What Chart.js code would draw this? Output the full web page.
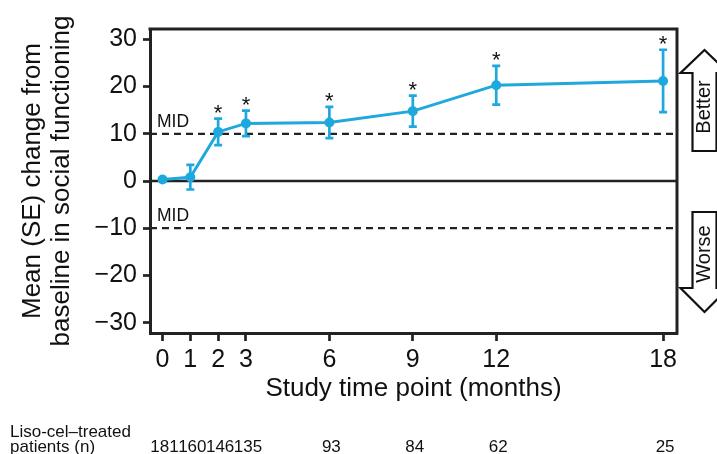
<!DOCTYPE html>
<html>
<head>
<meta charset="utf-8">
<script src="https://cdn.jsdelivr.net/npm/chart.js@4.4.1/dist/chart.umd.min.js"></script>
<style>
  html, body { margin: 0; padding: 0; background: #fff; }
  #wrap { width: 717px; height: 454px; position: relative; }
</style>
</head>
<body>
<div id="wrap"><canvas id="sfChart"></canvas></div>
<script>
// study time points (months) and mean (SE) change from baseline in social functioning
const months = [0, 1, 2, 3, 6, 9, 12, 18];
const meanChange = [0.3, 0.8, 10.4, 12.2, 12.4, 14.8, 20.3, 21.2];
const seChange = [0, 2.6, 2.8, 2.7, 3.3, 3.3, 4.1, 6.6];
const significant = [false, false, true, true, true, true, true, true];
const patientsN = [181, 160, 146, 135, 93, 84, 62, 25];
const xTicks = [0, 1, 2, 3, 6, 9, 12, 18];
const yTicks = [-30, -20, -10, 0, 10, 20, 30];
const midLevels = [10, -10];

const family = '"Liberation Sans", Arial, Helvetica, sans-serif';
const lineColor = '#1fa8de';
const ink = '#222';

function drawArrow(ctx, cx, tipY, headY, endY) {
  ctx.beginPath();
  ctx.moveTo(cx, tipY);
  ctx.lineTo(cx + 24, headY);
  ctx.lineTo(cx + 12, headY);
  ctx.lineTo(cx + 12, endY);
  ctx.lineTo(cx - 12, endY);
  ctx.lineTo(cx - 12, headY);
  ctx.lineTo(cx - 24, headY);
  ctx.closePath();
  ctx.fillStyle = '#fff';
  ctx.fill();
  ctx.strokeStyle = '#111';
  ctx.lineWidth = 2.2;
  ctx.stroke();
}

function rotatedText(ctx, text, x, y) {
  ctx.save();
  ctx.translate(x, y);
  ctx.rotate(-Math.PI / 2);
  ctx.fillText(text, 0, 0);
  ctx.restore();
}

const decorations = {
  id: 'decorations',
  beforeDatasetsDraw(chart) {
    const {ctx, chartArea: a, scales: {y}} = chart;
    ctx.save();
    // zero line
    ctx.strokeStyle = ink;
    ctx.lineWidth = 2.5;
    ctx.beginPath();
    ctx.moveTo(a.left, y.getPixelForValue(0));
    ctx.lineTo(a.right, y.getPixelForValue(0));
    ctx.stroke();
    // MID dashed lines
    ctx.setLineDash([7, 5]);
    ctx.lineWidth = 2.3;
    midLevels.forEach(v => {
      const py = y.getPixelForValue(v);
      ctx.beginPath();
      ctx.moveTo(a.left, py);
      ctx.lineTo(a.right, py);
      ctx.stroke();
    });
    ctx.setLineDash([]);
    ctx.fillStyle = '#111';
    ctx.font = '17.5px ' + family;
    ctx.textAlign = 'left';
    ctx.textBaseline = 'alphabetic';
    midLevels.forEach(v => ctx.fillText('MID', a.left + 7, y.getPixelForValue(v) - 7));
    ctx.restore();
  },
  afterDatasetsDraw(chart) {
    const {ctx, scales: {x, y}} = chart;
    ctx.save();
    ctx.strokeStyle = lineColor;
    ctx.lineWidth = 2.7;
    months.forEach((m, i) => {
      const px = x.getPixelForValue(m);
      const top = y.getPixelForValue(meanChange[i] + seChange[i]);
      const bot = y.getPixelForValue(meanChange[i] - seChange[i]);
      if (seChange[i] > 0) {
        ctx.beginPath();
        ctx.moveTo(px, top); ctx.lineTo(px, bot);
        ctx.moveTo(px - 4, top); ctx.lineTo(px + 4, top);
        ctx.moveTo(px - 4, bot); ctx.lineTo(px + 4, bot);
        ctx.stroke();
      }
      if (significant[i]) {
        ctx.fillStyle = '#111';
        ctx.font = '22px ' + family;
        ctx.textAlign = 'center';
        ctx.textBaseline = 'alphabetic';
        ctx.fillText('*', px, top + 1);
      }
    });
    ctx.restore();
  },
  afterDraw(chart) {
    const {ctx, chartArea: a, scales: {x}} = chart;
    ctx.save();
    // top and right frame
    ctx.strokeStyle = ink;
    ctx.lineWidth = 3;
    ctx.beginPath();
    ctx.moveTo(a.left - 1.5, a.top);
    ctx.lineTo(a.right, a.top);
    ctx.lineTo(a.right, a.bottom + 1.5);
    ctx.stroke();

    // better / worse arrows
    const cx = a.right + 27.5;
    drawArrow(ctx, cx, a.top + 21, a.top + 44, a.top + 122);
    drawArrow(ctx, cx, a.top + 283, a.top + 259, a.top + 183);
    ctx.fillStyle = '#111';
    ctx.font = '20px ' + family;
    ctx.textAlign = 'center';
    ctx.textBaseline = 'middle';
    rotatedText(ctx, 'Better', cx, a.top + 78);
    rotatedText(ctx, 'Worse', cx, a.top + 225);

    // patients row
    ctx.font = '17px ' + family;
    ctx.textAlign = 'left';
    ctx.textBaseline = 'alphabetic';
    ctx.fillText('Liso-cel\u2013treated', 10, 437);
    ctx.fillText('patients (n)', 10, 452);
    ctx.textAlign = 'center';
    months.forEach((m, i) => ctx.fillText(String(patientsN[i]), x.getPixelForValue(m) + 2, 452));
    ctx.restore();
  }
};

new Chart(document.getElementById('sfChart'), {
  type: 'line',
  data: {
    datasets: [{
      label: 'Liso-cel',
      data: months.map((m, i) => ({x: m, y: meanChange[i]})),
      borderColor: lineColor,
      backgroundColor: lineColor,
      pointBackgroundColor: lineColor,
      borderWidth: 3,
      pointRadius: 3.5,
      pointHoverRadius: 3.5,
      tension: 0
    }]
  },
  options: {
    responsive: true,
    maintainAspectRatio: false,
    animation: false,
    layout: {padding: {top: 29, right: 40, left: 0, bottom: 0}},
    plugins: {legend: {display: false}, tooltip: {enabled: false}},
    scales: {
      x: {
        type: 'linear',
        min: -0.45,
        max: 18.5,
        afterBuildTicks: s => { s.ticks = xTicks.map(v => ({value: v})); },
        afterFit: s => { s.height = 121; },
        grid: {drawOnChartArea: false, tickLength: 8, tickWidth: 2.7, tickColor: ink},
        border: {color: ink, width: 3},
        ticks: {color: '#111', font: {size: 25, family}, padding: 4, maxRotation: 0, autoSkip: false},
        title: {
          display: true,
          text: 'Study time point (months)',
          color: '#111',
          font: {size: 26, family},
          padding: {top: 0, bottom: 50}
        }
      },
      y: {
        type: 'linear',
        min: -32.2,
        max: 32.2,
        afterBuildTicks: s => { s.ticks = yTicks.map(v => ({value: v})); },
        afterFit: s => { s.width = 150; },
        grid: {drawOnChartArea: false, tickLength: 7, tickWidth: 2.7, tickColor: ink},
        border: {color: ink, width: 3},
        ticks: {
          color: '#111',
          font: {size: 25, family},
          padding: 6,
          callback: v => String(v).replace('-', '\u2212')
        },
        title: {
          display: true,
          text: ['Mean (SE) change from', 'baseline in social functioning'],
          color: '#111',
          font: {size: 26, family, lineHeight: 1.09},
          padding: {top: 19, bottom: 0}
        }
      }
    }
  },
  plugins: [decorations]
});
</script>
</body>
</html>
